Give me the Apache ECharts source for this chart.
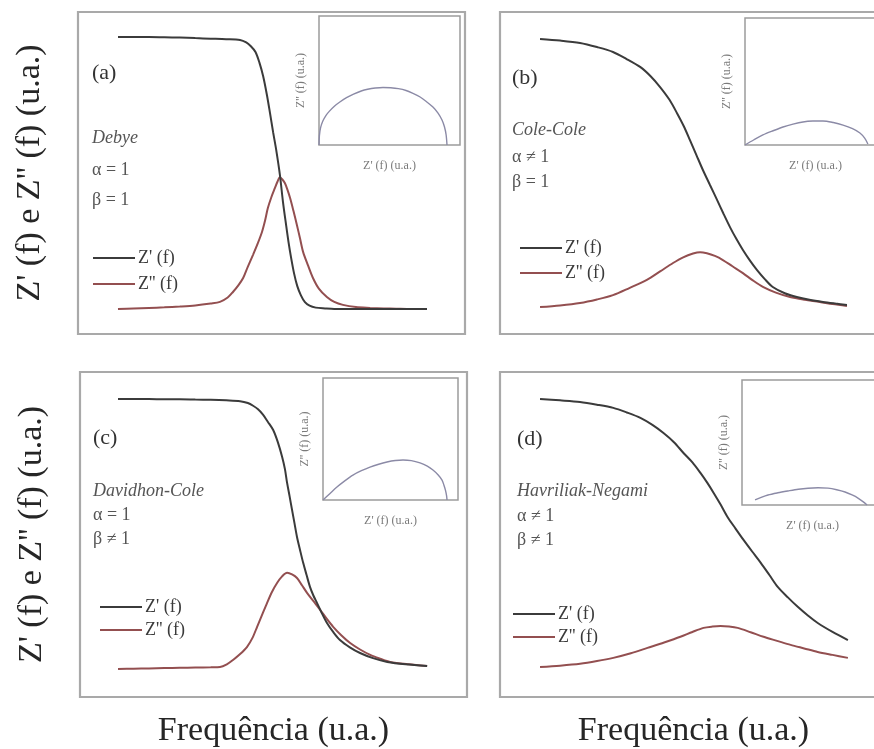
<!DOCTYPE html>
<html><head><meta charset="utf-8">
<script src="https://cdn.jsdelivr.net/npm/echarts@6.0.0/dist/echarts.min.js"></script>
<style>html,body{margin:0;padding:0;background:#fff}#c{width:874px;height:749px}</style>
</head><body><div id="c"></div>
<script>
// ---- text ----
const seriesNames = ["Z' (f)", "Z'' (f)"];
const panelLabels = ['(a)', '(b)', '(c)', '(d)'];
const modelNames = ['Debye', 'Cole-Cole', 'Davidhon-Cole', 'Havriliak-Negami'];
const alphaLabels = ['α = 1', 'α ≠ 1', 'α = 1', 'α ≠ 1'];
const betaLabels = ['β = 1', 'β = 1', 'β ≠ 1', 'β ≠ 1'];
const yTitle = "Z' (f) e Z'' (f) (u.a.)";
const xTitle = 'Frequência (u.a.)';
const insetXTitle = "Z' (f) (u.a.)";
const insetYTitle = "Z'' (f) (u.a.)";

// ---- data: [log frequency (u.a.), Z (u.a.)] ----
const debyeZ1 = [[0,1],[0.5,1],[1,1],[1.5,0.999],[2,0.998],[2.5,0.996],[3,0.994],[3.5,0.992],[3.95,0.989],[4.15,0.98],[4.3,0.966],[4.45,0.945],[4.58,0.905],[4.7,0.855],[4.82,0.787],[4.92,0.72],[5.02,0.65],[5.12,0.585],[5.24,0.493],[5.34,0.393],[5.44,0.309],[5.52,0.245],[5.6,0.19],[5.7,0.13],[5.8,0.085],[5.92,0.05],[6.05,0.025],[6.2,0.012],[6.4,0.005],[6.7,0.002],[7,0],[7.5,0],[8,0],[8.5,0],[9,0],[9.5,0],[10,0]];
const debyeZ2 = [[0,0],[0.5,0.002],[1,0.004],[1.5,0.006],[2,0.009],[2.5,0.013],[3,0.02],[3.3,0.026],[3.55,0.042],[3.72,0.0625],[3.9,0.088],[4.05,0.114],[4.2,0.155],[4.37,0.199],[4.52,0.24],[4.66,0.283],[4.76,0.325],[4.85,0.371],[4.96,0.41],[5.08,0.445],[5.16,0.468],[5.24,0.484],[5.32,0.476],[5.4,0.463],[5.48,0.44],[5.57,0.408],[5.68,0.36],[5.79,0.309],[5.89,0.26],[5.99,0.21],[6.15,0.16],[6.31,0.114],[6.5,0.075],[6.76,0.044],[7,0.026],[7.28,0.015],[7.7,0.007],[8.16,0.004],[8.6,0.002],[9,0.001],[9.5,0],[10,0]];
const coleZ1 = [[0,0.993],[0.65,0.987],[1.3,0.978],[1.85,0.963],[2.37,0.945],[2.8,0.92],[3.25,0.89],[3.6,0.855],[3.9,0.816],[4.2,0.77],[4.45,0.72],[4.67,0.672],[4.87,0.621],[5.08,0.566],[5.29,0.511],[5.52,0.456],[5.75,0.401],[5.96,0.35],[6.17,0.301],[6.38,0.257],[6.59,0.217],[6.82,0.178],[7.05,0.143],[7.3,0.11],[7.56,0.081],[7.95,0.058],[8.34,0.044],[8.75,0.034],[9.19,0.026],[9.6,0.02],[9.97,0.015]];
const coleZ2 = [[0,0.007],[0.65,0.013],[1.3,0.022],[1.85,0.035],[2.37,0.051],[2.9,0.077],[3.47,0.107],[3.9,0.138],[4.32,0.169],[4.65,0.19],[4.97,0.204],[5.2,0.209],[5.42,0.205],[5.68,0.195],[5.94,0.18],[6.25,0.157],[6.59,0.132],[6.9,0.106],[7.24,0.081],[7.66,0.06],[8.12,0.044],[8.6,0.034],[9.09,0.026],[9.5,0.018],[9.97,0.011]];
const davidZ1 = [[0,1],[0.5,1],[1,1],[1.5,0.999],[2,0.999],[2.5,0.998],[3,0.997],[3.5,0.995],[3.95,0.992],[4.2,0.985],[4.37,0.975],[4.53,0.962],[4.69,0.942],[4.85,0.915],[5.02,0.885],[5.17,0.84],[5.31,0.785],[5.4,0.74],[5.47,0.689],[5.55,0.64],[5.63,0.589],[5.71,0.539],[5.79,0.489],[5.89,0.44],[5.99,0.393],[6.1,0.348],[6.21,0.304],[6.32,0.272],[6.44,0.244],[6.6,0.205],[6.76,0.17],[6.96,0.137],[7.18,0.107],[7.5,0.08],[7.83,0.059],[8.25,0.04],[8.71,0.026],[9.3,0.017],[10,0.011]];
const davidZ2 = [[0,0],[0.5,0.001],[1,0.002],[1.5,0.003],[2,0.004],[2.5,0.005],[3,0.006],[3.3,0.007],[3.52,0.017],[3.72,0.033],[3.95,0.055],[4.17,0.081],[4.35,0.115],[4.5,0.156],[4.66,0.2],[4.82,0.244],[4.98,0.285],[5.15,0.319],[5.3,0.342],[5.47,0.356],[5.63,0.35],[5.79,0.337],[5.95,0.31],[6.12,0.281],[6.33,0.25],[6.54,0.219],[6.75,0.186],[6.96,0.156],[7.23,0.124],[7.51,0.096],[7.83,0.072],[8.16,0.052],[8.48,0.038],[8.8,0.026],[9.4,0.017],[10,0.011]];
const havZ1 = [[0,1],[0.65,0.995],[1.3,0.989],[1.85,0.979],[2.38,0.967],[2.82,0.95],[3.26,0.93],[3.65,0.904],[4.01,0.874],[4.35,0.84],[4.66,0.8],[4.95,0.765],[5.21,0.726],[5.43,0.69],[5.64,0.652],[5.87,0.608],[6.09,0.563],[6.35,0.52],[6.61,0.478],[6.89,0.435],[7.17,0.393],[7.45,0.348],[7.72,0.304],[8.05,0.265],[8.37,0.23],[8.7,0.198],[9.02,0.17],[9.5,0.137],[10,0.107]];
const havZ2 = [[0,0.007],[0.65,0.012],[1.3,0.019],[1.85,0.029],[2.38,0.041],[2.95,0.058],[3.49,0.078],[4.03,0.098],[4.56,0.119],[4.95,0.137],[5.31,0.152],[5.6,0.157],[5.86,0.159],[6.14,0.157],[6.42,0.152],[6.84,0.136],[7.26,0.119],[7.7,0.104],[8.14,0.089],[8.58,0.076],[9.02,0.063],[9.5,0.052],[10,0.041]];

// ---- inset data: [Z' (u.a.), Z'' (u.a.)] ----
const debyeNyq = [[0,0],[0.003,0.08],[0.012,0.15],[0.03,0.21],[0.055,0.26],[0.08,0.295],[0.12,0.34],[0.16,0.375],[0.215,0.415],[0.27,0.447],[0.33,0.474],[0.38,0.489],[0.44,0.5],[0.5,0.505],[0.56,0.502],[0.62,0.494],[0.68,0.478],[0.73,0.455],[0.79,0.421],[0.84,0.38],[0.89,0.333],[0.93,0.28],[0.961,0.219],[0.98,0.16],[0.993,0.09],[1,0]];
const coleNyq = [[0,0],[0.07,0.046],[0.14,0.088],[0.22,0.125],[0.297,0.158],[0.375,0.183],[0.453,0.202],[0.53,0.21],[0.609,0.211],[0.69,0.197],[0.766,0.175],[0.84,0.143],[0.898,0.105],[0.935,0.06],[0.96,0.009]];
const davidNyq = [[0,0],[0.055,0.058],[0.109,0.114],[0.17,0.168],[0.234,0.219],[0.3,0.257],[0.367,0.289],[0.435,0.314],[0.5,0.333],[0.565,0.346],[0.625,0.351],[0.69,0.345],[0.758,0.325],[0.815,0.297],[0.859,0.263],[0.9,0.22],[0.93,0.175],[0.945,0.13],[0.957,0.085],[0.965,0.04],[0.969,0]];
const havNyq = [[0.102,0.044],[0.15,0.067],[0.203,0.088],[0.28,0.107],[0.359,0.123],[0.44,0.138],[0.516,0.147],[0.594,0.151],[0.672,0.148],[0.74,0.134],[0.805,0.114],[0.86,0.088],[0.906,0.061],[0.945,0.03],[0.977,0]];

const mainZ1 = [debyeZ1, coleZ1, davidZ1, havZ1];
const mainZ2 = [debyeZ2, coleZ2, davidZ2, havZ2];
const insets = [debyeNyq, coleNyq, davidNyq, havNyq];

// ---- layout ----
const SERIF = '"Liberation Serif", "Times New Roman", serif';
const mainGrids = [
  {left:78, top:12, width:387, height:322},
  {left:500, top:12, width:387, height:322},
  {left:80, top:372, width:387, height:325},
  {left:500, top:372, width:387, height:325}
];
const mainX = [[-1.294, 11.23], [-1.3, 11.27], [-1.23, 11.29], [-1.3, 11.27]];
const mainY = [[-0.092, 1.092], [-0.092, 1.092], [-0.104, 1.1], [-0.104, 1.1]];
const insetGrids = [
  {left:319, top:16, width:141, height:129},
  {left:745, top:18, width:141, height:127},
  {left:323, top:378, width:135, height:122},
  {left:742, top:380, width:141, height:125}
];
const labelPos = [
  {x:92, lab:73, name:138, a:170, b:200},
  {x:512, lab:78, name:130, a:157, b:182},
  {x:93, lab:438, name:491, a:515, b:539},
  {x:517, lab:439, name:491, a:516, b:540}
];
const legendPos = [
  {left:93, top:249, gap:8},
  {left:520, top:239, gap:7},
  {left:100, top:598, gap:5},
  {left:513, top:605, gap:5}
];
const C1 = '#3b3b3b', C2 = '#934f50', CN = '#8b8aa6';

const grid = [], xAxis = [], yAxis = [], series = [], legend = [], graphic = [];
const hidden = {axisLine:{show:false, onZero:false}, axisTick:{show:false}, axisLabel:{show:false}, splitLine:{show:false}};

mainGrids.forEach((g, i) => {
  grid.push(Object.assign({show:true, borderColor:'#a9a9a9', borderWidth:2.2, backgroundColor:'transparent', containLabel:false, outerBoundsMode:'none'}, g));
  xAxis.push(Object.assign({type:'value', gridIndex:i, min:mainX[i][0], max:mainX[i][1],
    name: i >= 2 ? xTitle : '', nameLocation:'middle', nameGap:17,
    nameTextStyle:{fontFamily:SERIF, fontSize:34, color:'#262626'}}, hidden));
  yAxis.push(Object.assign({type:'value', gridIndex:i, min:mainY[i][0], max:mainY[i][1],
    name: (i % 2 === 0) ? yTitle : '', nameLocation:'middle', nameGap:31, nameRotate:90,
    nameTextStyle:{fontFamily:SERIF, fontSize:34, color:'#262626'}}, hidden));
});
insetGrids.forEach((g, k) => {
  const i = k + 4;
  grid.push(Object.assign({show:true, borderColor:'#9c9c9c', borderWidth:1.5, backgroundColor:'#fff', containLabel:false, outerBoundsMode:'none'}, g));
  xAxis.push(Object.assign({type:'value', gridIndex:i, min:0, max:g.width/128,
    name: insetXTitle, nameLocation:'middle', nameGap:15,
    nameTextStyle:{fontFamily:SERIF, fontSize:12, color:'#7a7a7a'}}, hidden));
  yAxis.push(Object.assign({type:'value', gridIndex:i, min:0, max:g.height/114,
    name: insetYTitle, nameLocation:'middle', nameGap:12, nameRotate:90,
    nameTextStyle:{fontFamily:SERIF, fontSize:12, color:'#7a7a7a'}}, hidden));
});

for (let i = 0; i < 4; i++) {
  series.push({name:seriesNames[0], type:'line', xAxisIndex:i, yAxisIndex:i, data:mainZ1[i],
    smooth:0.3, showSymbol:false, color:C1, lineStyle:{color:C1, width:2}, z:3});
  series.push({name:seriesNames[1], type:'line', xAxisIndex:i, yAxisIndex:i, data:mainZ2[i],
    smooth:0.3, showSymbol:false, color:C2, lineStyle:{color:C2, width:2}, z:2});
  series.push({name:'nyquist' + i, type:'line', xAxisIndex:i + 4, yAxisIndex:i + 4, data:insets[i],
    smooth:0.3, showSymbol:false, color:CN, lineStyle:{color:CN, width:1.4}, z:4});
  legend.push({data:seriesNames, orient:'vertical', left:legendPos[i].left, top:legendPos[i].top,
    padding:0, itemWidth:42, itemHeight:2, itemGap:legendPos[i].gap, icon:'rect', selectedMode:false,
    textStyle:{fontFamily:SERIF, fontSize:18, color:'#3a3a3a', padding:[0,0,0,-2]}});
  const p = labelPos[i];
  graphic.push({type:'text', x:p.x, y:p.lab, style:{text:panelLabels[i], font:'22px ' + SERIF, fill:'#333', verticalAlign:'middle'}});
  graphic.push({type:'text', x:p.x, y:p.name, style:{text:modelNames[i], font:'italic 18px ' + SERIF, fill:'#555', verticalAlign:'middle'}});
  graphic.push({type:'text', x:p.x, y:p.a, style:{text:alphaLabels[i], font:'18px ' + SERIF, fill:'#555', verticalAlign:'middle'}});
  graphic.push({type:'text', x:p.x, y:p.b, style:{text:betaLabels[i], font:'18px ' + SERIF, fill:'#555', verticalAlign:'middle'}});
}

const chart = echarts.init(document.getElementById('c'), null, {renderer:'canvas'});
chart.setOption({backgroundColor:'#fff', animation:false, grid, xAxis, yAxis, series, legend, graphic});
</script>
</body></html>
